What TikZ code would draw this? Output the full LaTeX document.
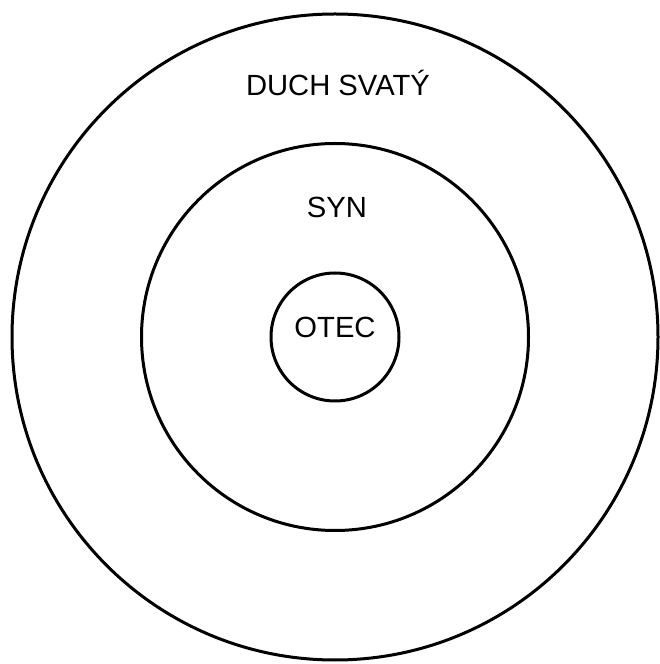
\documentclass[tikz,border=0pt]{standalone}
\usepackage{fontspec}
\setmainfont{Liberation Sans}
\usepackage{tikz}
\usetikzlibrary{positioning}

\begin{document}
\begin{tikzpicture}[x=0.5pt, y=0.5pt]
    \def\cx{335}
    \def\cy{327}
    % Canvas
    \useasboundingbox (0,0) rectangle (659,664);
    % Circles
    \draw[line width=1.5pt] (\cx,\cy) circle (323);
    \draw[line width=1.5pt] (\cx,\cy) circle (193.5);
    \draw[line width=1.5pt] (\cx,\cy) circle (64);
    % Labels
    \node[anchor=base, inner sep=0pt, font=\fontsize{14.6}{16}\selectfont] (duch) at (\cx+3,568) {DUCH SVATÝ};
    \node[anchor=base, inner sep=0pt, font=\fontsize{14.6}{16}\selectfont] (syn) at (\cx+2,446) {SYN};
    \node[anchor=base, inner sep=0pt, font=\fontsize{14.6}{16}\selectfont] (otec) at (\cx,326) {OTEC};
\end{tikzpicture}
\end{document}
